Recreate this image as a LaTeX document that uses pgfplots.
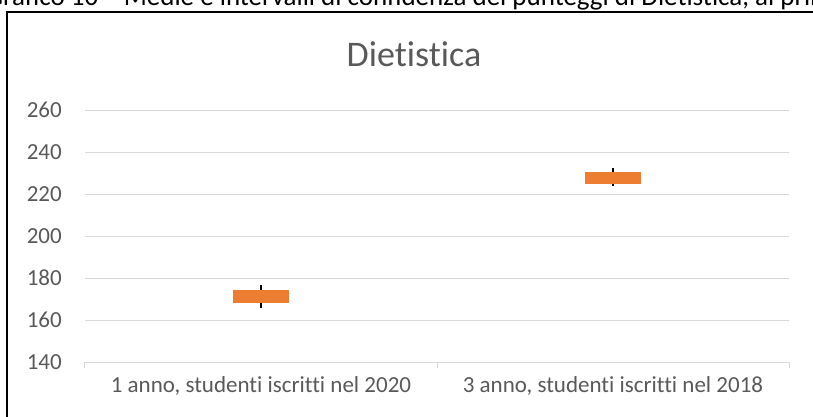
\documentclass[border=0pt]{standalone}
\usepackage{pgfplots}
\pgfplotsset{compat=1.18}
\usepackage{fontspec}
\setmainfont{Carlito}[Ligatures=NoCommon]
\definecolor{xlorange}{HTML}{ED7D31}
\definecolor{xltext}{HTML}{595959}
\definecolor{xlgrid}{HTML}{D9D9D9}
\pgfdeclareplotmark{xlrect}{\pgfpathrectangle{\pgfpoint{-28pt}{-6.25pt}}{\pgfpoint{56pt}{12.5pt}}\pgfusepathqfill}
\pgfplotstableread{
x y ep em
0 171.3 5.4 5.6
1 227.7 4.5 3.9
}\datatab
\begin{document}
\begin{tikzpicture}[x=1pt,y=1pt]
\useasboundingbox (0,0) rectangle (813,416);
\clip (0,0) rectangle (813,416);
\node[anchor=base west, inner sep=0pt, font=\fontsize{27}{31}\selectfont, text=black] at (-14,410) {Grafico 10 -- Medie e intervalli di confidenza dei punteggi di Dietistica, al primo anno};
\draw[line width=2pt] (7,-5) -- (7,404) -- (830,404);
\node[anchor=base, inner sep=0pt, font=\fontsize{36}{40}\selectfont, text=xltext] at (414,349) {Dietistica};
\begin{axis}[at={(85pt,54pt)}, anchor=south west, scale only axis,
  width=704pt, height=252pt,
  xmin=-0.5, xmax=1.5, ymin=140, ymax=260,
  ytick={140,160,180,200,220,240,260},
  yticklabels={140,160,180,200,220,240,260},
  xtick={0,1},
  xticklabels={{1 anno, studenti iscritti nel 2020}, {3 anno, studenti iscritti nel 2018}},
  minor xtick={-0.5,0.5,1.5},
  xtick pos=bottom, ytick pos=left,
  axis line style={draw=none},
  ymajorgrids, grid style={xlgrid, line width=1pt},
  major tick length=0pt, minor tick length=6pt, tick align=outside,
  minor tick style={xlgrid, line width=1pt},
  tick label style={font=\fontsize{23}{27}\selectfont, text=xltext},
  yticklabel style={inner sep=0pt, anchor=east, xshift=-23pt},
  xticklabel style={inner sep=0pt, anchor=base, yshift=-30pt},
  clip=false]
\addplot[draw=none, mark=none, error bars/.cd, y dir=both, y explicit,
  error bar style={draw=black, line width=2pt}, error mark=none]
  table[x=x, y=y, y error plus=ep, y error minus=em] {\datatab};
\addplot[only marks, mark=xlrect, mark options={fill=xlorange, draw=none}]
  table[x=x, y=y] {\datatab};
\end{axis}
\end{tikzpicture}
\end{document}
